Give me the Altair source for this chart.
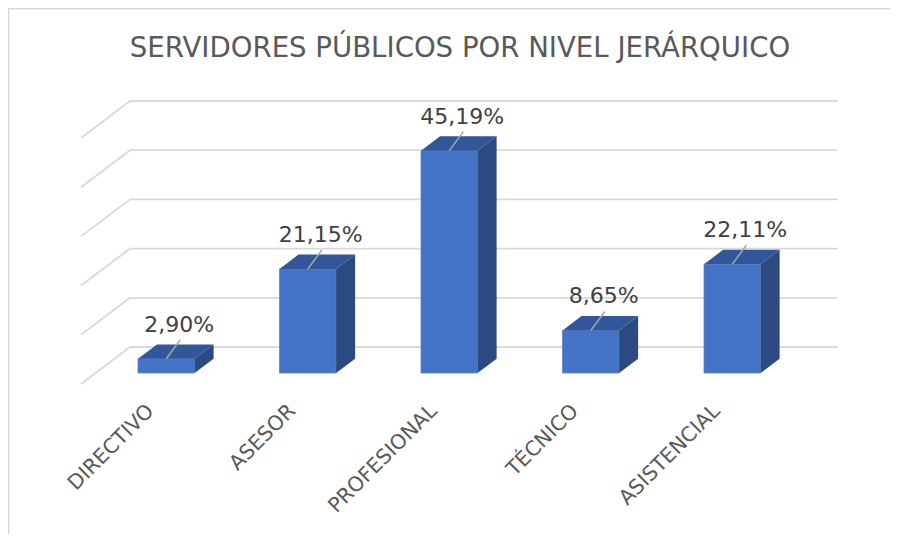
import altair as alt
import pandas as pd

# ---- data ----
categories = ["DIRECTIVO", "ASESOR", "PROFESIONAL", "TÉCNICO", "ASISTENCIAL"]
values = [2.90, 21.15, 45.19, 8.65, 22.11]
value_labels = ["2,90%", "21,15%", "45,19%", "8,65%", "22,11%"]
grid_ticks = [0, 10, 20, 30, 40, 50]
title_text = "SERVIDORES PÚBLICOS POR NIVEL JERÁRQUICO"

# ---- geometry / style constants ----
W, H = 882, 526
X_DOMAIN = [-0.8622, 5.3710]   # category units (back wall spans 0..5)
Y_DOMAIN = [-38.01, 68.90]     # percent units on back wall
PXU = W / (X_DOMAIN[1] - X_DOMAIN[0])
PXV = H / (Y_DOMAIN[1] - Y_DOMAIN[0])
DX = -49 / PXU                 # full floor depth (wall -> front), x units
DY = -37 / PXV                 # full floor depth, y units
FRONT, BACK = 0.703, 0.315     # bar depth positions (fraction of floor depth)
BAR_LO, BAR_HI = 0.30, 0.70    # bar extent inside each band
N = len(categories)

C_FRONT = "#4472C4"
C_TOP = "#31569A"
C_SIDE = "#2B4A82"
C_GRID = "#D9D9D9"

ddx = (BACK - FRONT) * DX
ddy = (BACK - FRONT) * DY

front_rows, side_rows, top_rows, lbl_rows, cat_rows = [], [], [], [], []
for i, (c, v, t) in enumerate(zip(categories, values, value_labels)):
    x0 = i + BAR_LO + FRONT * DX
    x1 = i + BAR_HI + FRONT * DX
    yb = FRONT * DY
    yt = v + FRONT * DY
    front_rows.append(dict(cat=c, x0=x0, x1=x1, yb=yb, yt=yt))
    side_rows += [dict(cat=c, x=x1, yb=yb, yt=yt),
                  dict(cat=c, x=x1 + ddx, yb=yb + ddy, yt=yt + ddy)]
    top_rows += [dict(cat=c, y=yt, xa=x0, xb=x1),
                 dict(cat=c, y=yt + ddy, xa=x0 + ddx, xb=x1 + ddx)]
    cx = (x0 + x1) / 2
    lbl_rows.append(dict(cat=c, lab=t, x=cx + 13 / PXU, y=yt + 27 / PXV,
                         lx=cx, ly=yt, lx2=cx + 14 / PXU, ly2=yt + 19 / PXV))
    cat_rows.append(dict(cat=c, x=i + 0.5 + DX - 1 / PXU, y=DY - 24 / PXV))

grid_rows = [dict(v=g, xa=0, xb=N, dxa=DX, dv=g + DY) for g in grid_ticks]

front_df = pd.DataFrame(front_rows)
side_df = pd.DataFrame(side_rows)
top_df = pd.DataFrame(top_rows)
lbl_df = pd.DataFrame(lbl_rows)
cat_df = pd.DataFrame(cat_rows)
grid_df = pd.DataFrame(grid_rows)
title_df = pd.DataFrame([dict(t=title_text)])

xs = alt.Scale(domain=X_DOMAIN, nice=False, zero=False)
ys = alt.Scale(domain=Y_DOMAIN, nice=False, zero=False)

# outer frame (only top and left edges are visible in the reference)
frame_top = alt.Chart(title_df).mark_rule(color=C_GRID, strokeWidth=1.5).encode(
    x=alt.value(0), x2=alt.value(W), y=alt.value(0.75))
frame_left = alt.Chart(title_df).mark_rule(color=C_GRID, strokeWidth=1.5).encode(
    x=alt.value(0.75), y=alt.value(0), y2=alt.value(H))

grid_h = alt.Chart(grid_df).mark_rule(color=C_GRID, strokeWidth=1.8).encode(
    x=alt.X("xa:Q", scale=xs, axis=None), x2="xb:Q",
    y=alt.Y("v:Q", scale=ys, axis=None))
grid_d = alt.Chart(grid_df).mark_rule(color=C_GRID, strokeWidth=1.8).encode(
    x=alt.X("xa:Q", scale=xs, axis=None), x2="dxa:Q",
    y=alt.Y("v:Q", scale=ys, axis=None), y2="dv:Q")

front = alt.Chart(front_df).mark_rect(color=C_FRONT, stroke="#5A84CC", strokeWidth=0.8).encode(
    x=alt.X("x0:Q", scale=xs, axis=None), x2="x1:Q",
    y=alt.Y("yb:Q", scale=ys, axis=None), y2="yt:Q")
side = alt.Chart(side_df).mark_area(orient="vertical", color=C_SIDE).encode(
    x=alt.X("x:Q", scale=xs, axis=None),
    y=alt.Y("yt:Q", scale=ys, axis=None), y2="yb:Q",
    detail="cat:N")
top = alt.Chart(top_df).mark_area(orient="horizontal", color=C_TOP).encode(
    y=alt.Y("y:Q", scale=ys, axis=None),
    x=alt.X("xa:Q", scale=xs, axis=None), x2="xb:Q",
    detail="cat:N")

leader = alt.Chart(lbl_df).mark_rule(color="#A6A6A6", strokeWidth=1.5).encode(
    x=alt.X("lx:Q", scale=xs, axis=None), x2="lx2:Q",
    y=alt.Y("ly:Q", scale=ys, axis=None), y2="ly2:Q")
vlabels = alt.Chart(lbl_df).mark_text(font="DejaVu Sans", fontSize=22, color="#404040",
                                      align="center", baseline="alphabetic").encode(
    x=alt.X("x:Q", scale=xs, axis=None),
    y=alt.Y("y:Q", scale=ys, axis=None), text="lab:N")

clabels = alt.Chart(cat_df).mark_text(font="DejaVu Sans", fontSize=20.5, color="#595959",
                                      align="right", baseline="middle", angle=315).encode(
    x=alt.X("x:Q", scale=xs, axis=None),
    y=alt.Y("y:Q", scale=ys, axis=None), text="cat:N")

title = alt.Chart(title_df).mark_text(font="DejaVu Sans", fontSize=27.6, color="#595959",
                                      align="center", baseline="alphabetic").encode(
    x=alt.value(452), y=alt.value(49), text="t:N")

chart = alt.layer(frame_top, frame_left, grid_h, grid_d, front, side, top, leader,
                  vlabels, clabels, title).properties(
    width=W, height=H, autosize=alt.AutoSizeParams(type="none"), padding=0
).configure_view(strokeWidth=0).configure(background="white")

chart.save("out.html", embed_options={"renderer": "svg", "actions": False})
